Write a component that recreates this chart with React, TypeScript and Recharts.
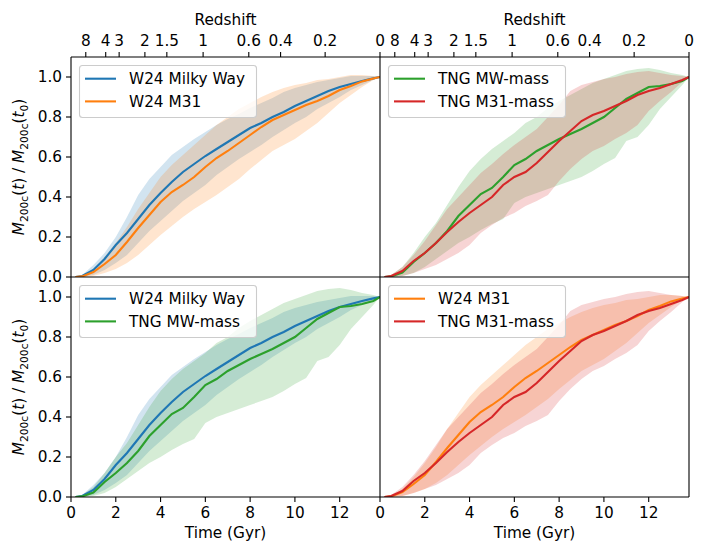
import React from 'react';
import { ComposedChart, Area, Line, XAxis, YAxis, Legend } from 'recharts';

// ---------- data ----------
const time = [0.2, 0.5, 1, 1.5, 2, 2.5, 3, 3.5, 4, 4.5, 5, 5.5, 6, 6.5, 7, 7.5, 8, 8.5, 9, 9.5, 10, 10.5, 11, 11.5, 12, 12.5, 13, 13.5, 13.8];

const w24MwMedian = [0, 0.005, 0.035, 0.09, 0.16, 0.22, 0.29, 0.36, 0.42, 0.475, 0.525, 0.565, 0.605, 0.64, 0.675, 0.71, 0.745, 0.77, 0.8, 0.825, 0.855, 0.88, 0.905, 0.93, 0.95, 0.965, 0.98, 0.993, 1.0];
const w24MwLow = [0, 0, 0.01, 0.035, 0.07, 0.11, 0.17, 0.23, 0.28, 0.33, 0.38, 0.42, 0.46, 0.51, 0.55, 0.59, 0.625, 0.66, 0.7, 0.735, 0.77, 0.8, 0.84, 0.87, 0.9, 0.935, 0.96, 0.985, 1.0];
const w24MwHigh = [0, 0.01, 0.06, 0.12, 0.2, 0.3, 0.41, 0.49, 0.55, 0.61, 0.65, 0.69, 0.725, 0.76, 0.79, 0.815, 0.845, 0.87, 0.895, 0.925, 0.945, 0.96, 0.975, 0.985, 0.995, 1.005, 1.005, 1.005, 1.0];

const w24M31Median = [0, 0.003, 0.025, 0.065, 0.11, 0.175, 0.245, 0.31, 0.375, 0.425, 0.46, 0.5, 0.55, 0.595, 0.63, 0.67, 0.71, 0.75, 0.785, 0.81, 0.835, 0.86, 0.88, 0.905, 0.935, 0.955, 0.978, 0.993, 1.0];
const w24M31Low = [0, 0, 0.005, 0.02, 0.04, 0.07, 0.11, 0.16, 0.21, 0.255, 0.3, 0.34, 0.375, 0.41, 0.45, 0.49, 0.54, 0.585, 0.63, 0.66, 0.69, 0.73, 0.77, 0.82, 0.87, 0.91, 0.95, 0.985, 1.0];
const w24M31High = [0, 0.005, 0.04, 0.1, 0.17, 0.25, 0.34, 0.42, 0.5, 0.56, 0.61, 0.66, 0.71, 0.76, 0.8, 0.84, 0.87, 0.9, 0.925, 0.945, 0.96, 0.97, 0.985, 0.99, 1.0, 1.01, 1.01, 1.005, 1.0];

const tngMwMedian = [0, 0.003, 0.022, 0.075, 0.12, 0.17, 0.23, 0.305, 0.36, 0.415, 0.445, 0.5, 0.56, 0.59, 0.63, 0.66, 0.69, 0.715, 0.74, 0.77, 0.8, 0.845, 0.89, 0.92, 0.95, 0.955, 0.965, 0.98, 1.0];
const tngMwLow = [0, 0, 0.005, 0.02, 0.05, 0.09, 0.13, 0.17, 0.2, 0.235, 0.265, 0.29, 0.37, 0.4, 0.42, 0.44, 0.46, 0.48, 0.5, 0.53, 0.565, 0.595, 0.68, 0.7, 0.76, 0.84, 0.9, 0.96, 1.0];
const tngMwHigh = [0, 0.01, 0.05, 0.12, 0.2, 0.27, 0.36, 0.45, 0.53, 0.59, 0.64, 0.68, 0.72, 0.77, 0.8, 0.845, 0.88, 0.91, 0.94, 0.97, 0.99, 1.01, 1.03, 1.04, 1.045, 1.035, 1.02, 1.01, 1.0];

const tngM31Median = [0, 0.005, 0.03, 0.08, 0.12, 0.17, 0.225, 0.275, 0.32, 0.36, 0.4, 0.46, 0.5, 0.525, 0.57, 0.625, 0.68, 0.73, 0.78, 0.81, 0.83, 0.855, 0.88, 0.91, 0.93, 0.945, 0.965, 0.985, 1.0];
const tngM31Low = [0, 0, 0.005, 0.02, 0.04, 0.06, 0.09, 0.12, 0.16, 0.22, 0.26, 0.295, 0.32, 0.355, 0.38, 0.41, 0.48, 0.54, 0.59, 0.63, 0.655, 0.69, 0.72, 0.76, 0.83, 0.88, 0.925, 0.975, 1.0];
const tngM31High = [0, 0.01, 0.05, 0.11, 0.18, 0.26, 0.34, 0.4, 0.46, 0.52, 0.565, 0.615, 0.66, 0.7, 0.74, 0.8, 0.86, 0.93, 0.96, 0.975, 0.99, 1.0, 1.015, 1.025, 1.03, 1.02, 1.01, 1.005, 1.0];

const timeTicks = [0, 2, 4, 6, 8, 10, 12];
const massTicks = [0, 0.2, 0.4, 0.6, 0.8, 1.0];
const redshiftLabels = ['8', '4', '3', '2', '1.5', '1', '0.6', '0.4', '0.2', '0'];
const redshiftTimes = [0.66, 1.55, 2.15, 3.3, 4.28, 5.9, 7.94, 9.36, 11.35, 13.8];

// ---------- series ----------
type Series = { key: string; name: string; color: string; median: number[]; low: number[]; high: number[] };

const W24_MW: Series = { key: 'w24mw', name: 'W24 Milky Way', color: '#1f77b4', median: w24MwMedian, low: w24MwLow, high: w24MwHigh };
const W24_M31: Series = { key: 'w24m31', name: 'W24 M31', color: '#ff7f0e', median: w24M31Median, low: w24M31Low, high: w24M31High };
const TNG_MW: Series = { key: 'tngmw', name: 'TNG MW-mass', color: '#2ca02c', median: tngMwMedian, low: tngMwLow, high: tngMwHigh };
const TNG_M31: Series = { key: 'tngm31', name: 'TNG M31-mass', color: '#d62728', median: tngM31Median, low: tngM31Low, high: tngM31High };
const allSeries = [W24_MW, W24_M31, TNG_MW, TNG_M31];

const rows = time.map((t, i) => {
  const r: Record<string, any> = { t };
  for (const s of allSeries) {
    r[s.key] = s.median[i];
    r[s.key + 'Band'] = [s.low[i], s.high[i]];
  }
  return r;
});

// ---------- layout ----------
const W = 706;
const H = 544;
const FONT = 'DejaVu Sans';
const FS = 15.3;
const AX = { stroke: '#000', strokeWidth: 1.1 };
const TICKFONT = { fontSize: FS, fill: '#000', fontFamily: FONT };

const YLabel = (props: any) => {
  const vb = props.viewBox || { y: 0, height: 0 };
  const cy = vb.y + vb.height / 2;
  const cx = 24;
  const sub = 10.7;
  return (
    <text x={cx} y={cy} transform={`rotate(-90 ${cx} ${cy})`} textAnchor="middle" fontSize={FS} fontFamily={FONT} fill="#000">
      <tspan fontStyle="italic">M</tspan>
      <tspan fontSize={sub} dy={3.5}>200c</tspan>
      <tspan dy={-3.5}>(</tspan>
      <tspan fontStyle="italic">t</tspan>
      <tspan>) / </tspan>
      <tspan fontStyle="italic">M</tspan>
      <tspan fontSize={sub} dy={3.5}>200c</tspan>
      <tspan dy={-3.5}>(</tspan>
      <tspan fontStyle="italic">t</tspan>
      <tspan fontSize={sub} dy={3.5}>0</tspan>
      <tspan dy={-3.5}>)</tspan>
    </text>
  );
};

const makeXLabel = (text: string, y: number) => (props: any) => {
  const vb = props.viewBox || { x: 0, width: 0 };
  return (
    <text x={vb.x + vb.width / 2} y={y} textAnchor="middle" fontSize={FS} fontFamily={FONT} fill="#000">
      {text}
    </text>
  );
};

const makeLegend = (items: Series[]) => () => (
  <svg width={179} height={54} style={{ display: 'block', overflow: 'visible' }}>
    <rect x={0.5} y={0.5} width={177} height={52} rx={3} ry={3} fill="#ffffff" fillOpacity={0.8} stroke="#cccccc" strokeWidth={1.1} />
    {items.map((s, i) => {
      const cy = 13.7 + i * 22.7;
      return (
        <g key={s.key}>
          <line x1={6} x2={37} y1={cy} y2={cy} stroke={s.color} strokeWidth={2.1} />
          <text x={50} y={cy} dy="0.36em" fontSize={FS} fontFamily={FONT} fill="#000">
            {s.name}
          </text>
        </g>
      );
    })}
  </svg>
);

function Panel({ col, row, series }: { col: number; row: number; series: Series[] }) {
  const x0 = col === 0 ? 71 : 380;
  const x1 = col === 0 ? 380 : 689;
  const y0 = row === 0 ? 57 : 277;
  const y1 = row === 0 ? 277 : 497;
  const margin = { left: x0 - 1, right: W - x1 - 1, top: y0 - 1, bottom: H - y1 - 1 };
  const isTop = row === 0;
  const isBottom = row === 1;
  const isLeft = col === 0;
  const isRight = col === 1;

  return (
    <div style={{ position: 'absolute', left: 0, top: 0, width: W, height: H }}>
      <ComposedChart width={W} height={H} data={rows} margin={margin}>
        <XAxis
          xAxisId="b"
          dataKey="t"
          type="number"
          domain={[0, 13.8]}
          allowDataOverflow
          ticks={timeTicks}
          orientation="bottom"
          height={1}
          axisLine={AX}
          tickLine={AX}
          tickSize={5}
          tickMargin={5}
          tick={isBottom ? TICKFONT : false}
          interval={0}
          label={isBottom ? makeXLabel('Time (Gyr)', 538) : undefined}
        />
        <XAxis
          xAxisId="top"
          dataKey="t"
          type="number"
          domain={[0, 13.8]}
          allowDataOverflow
          ticks={redshiftTimes}
          orientation="top"
          height={1}
          axisLine={isTop ? AX : false}
          tickLine={isTop ? AX : false}
          tickSize={5}
          tickMargin={6}
          interval={0}
          tick={isTop ? TICKFONT : false}
          tickFormatter={(v: number, i: number) => redshiftLabels[i] ?? ''}
          label={isTop ? makeXLabel('Redshift', 25) : undefined}
        />
        <YAxis
          yAxisId="l"
          type="number"
          domain={[0, 1.1]}
          allowDataOverflow
          ticks={massTicks}
          orientation="left"
          width={1}
          axisLine={AX}
          tickLine={AX}
          tickSize={5}
          tickMargin={4}
          interval={0}
          tick={isLeft ? TICKFONT : false}
          tickFormatter={(v: number) => v.toFixed(1)}
          label={isLeft ? YLabel : undefined}
        />
        <YAxis
          yAxisId="r"
          type="number"
          domain={[0, 1.1]}
          allowDataOverflow
          ticks={massTicks}
          orientation="right"
          width={1}
          axisLine={isRight ? AX : false}
          tickLine={false}
          tick={false}
        />
        {series.map((s) => [
          <Area
            key={s.key + 'a'}
            xAxisId="b"
            yAxisId="l"
            dataKey={s.key + 'Band'}
            type="linear"
            stroke="none"
            fill={s.color}
            fillOpacity={0.2}
            isAnimationActive={false}
            legendType="none"
            dot={false}
            activeDot={false}
          />,
          <Line
            key={s.key + 'l'}
            xAxisId="b"
            yAxisId="l"
            dataKey={s.key}
            name={s.name}
            type="linear"
            stroke={s.color}
            strokeWidth={2.1}
            dot={false}
            activeDot={false}
            isAnimationActive={false}
          />,
        ])}
        <Legend
          layout="vertical"
          align="center"
          verticalAlign="middle"
          content={makeLegend(series)}
          wrapperStyle={{ left: x0 + 7.7, top: y0 + 7.7, width: 179, height: 54 }}
        />
      </ComposedChart>
    </div>
  );
}

export default function App() {
  return (
    <div style={{ position: 'absolute', left: 0, top: 0, width: W, height: H, background: '#fff' }}>
      <Panel col={0} row={0} series={[W24_MW, W24_M31]} />
      <Panel col={1} row={0} series={[TNG_MW, TNG_M31]} />
      <Panel col={0} row={1} series={[W24_MW, TNG_MW]} />
      <Panel col={1} row={1} series={[W24_M31, TNG_M31]} />
    </div>
  );
}
